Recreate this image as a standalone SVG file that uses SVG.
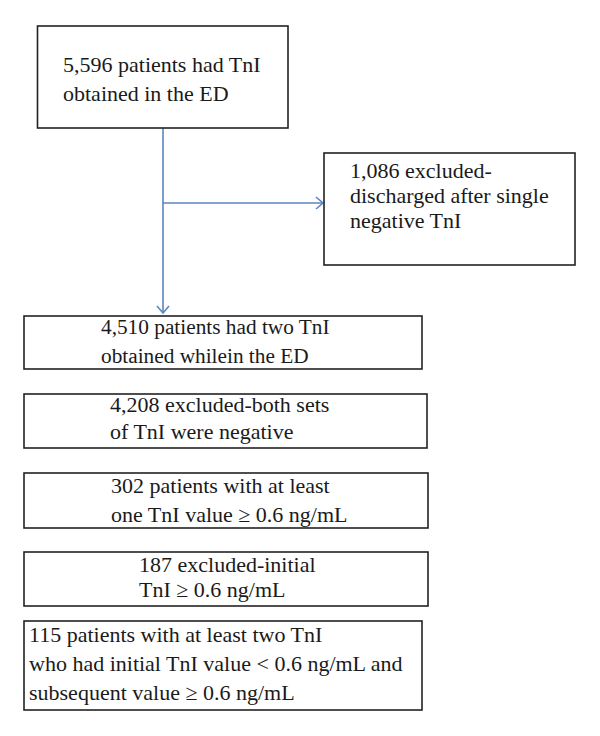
<svg xmlns="http://www.w3.org/2000/svg" width="600" height="736" viewBox="0 0 600 736">
<style>
.box{fill:#fff;stroke:#222;stroke-width:1.6}
.t{font-family:"Liberation Serif","Times New Roman",serif;font-size:22px;fill:#1a1a1a}
.c{fill:none;stroke:#5b86c0;stroke-width:1.6}
</style>
<defs>
<marker id="ah" markerWidth="14" markerHeight="14" refX="10" refY="7" orient="auto" markerUnits="userSpaceOnUse">
<path d="M3,1 L10,7 L3,13" fill="none" stroke="#5b86c0" stroke-width="1.6"/>
</marker>
</defs>
<rect width="600" height="736" fill="#fff"/>
<g id="connectors">
<line class="c" x1="163" y1="128" x2="163" y2="313" marker-end="url(#ah)"/>
<line class="c" x1="163" y1="203" x2="323" y2="203" marker-end="url(#ah)"/>
</g>
<g id="n1">
<rect class="box" x="37.5" y="26" width="250.5" height="102"/>
<text class="t" x="63" y="72">5,596 patients had TnI</text>
<text class="t" x="63" y="101">obtained in the ED</text>
</g>
<g id="n2">
<rect class="box" x="324" y="153" width="251" height="112"/>
<text class="t" x="350" y="178">1,086 excluded-</text>
<text class="t" x="350" y="203">discharged after single</text>
<text class="t" x="350" y="228">negative TnI</text>
</g>
<g id="n3">
<rect class="box" x="24" y="316" width="398" height="53"/>
<text class="t" x="101" y="334" style="font-size:21.3px">4,510 patients had two TnI</text>
<text class="t" x="101" y="363" style="font-size:21.3px">obtained whilein the ED</text>
</g>
<g id="n4">
<rect class="box" x="24" y="394" width="403" height="54"/>
<text class="t" x="110" y="412">4,208 excluded-both sets</text>
<text class="t" x="110" y="439">of TnI were negative</text>
</g>
<g id="n5">
<rect class="box" x="24" y="473" width="404" height="55"/>
<text class="t" x="111" y="493">302 patients with at least</text>
<text class="t" x="111" y="522">one TnI value ≥ 0.6 ng/mL</text>
</g>
<g id="n6">
<rect class="box" x="24" y="552" width="404" height="54"/>
<text class="t" x="139" y="572">187 excluded-initial</text>
<text class="t" x="139" y="597">TnI ≥ 0.6 ng/mL</text>
</g>
<g id="n7">
<rect class="box" x="24" y="621" width="398" height="89"/>
<text class="t" x="29" y="642">115 patients with at least two TnI</text>
<text class="t" x="29" y="671">who had initial TnI value &lt; 0.6 ng/mL and</text>
<text class="t" x="29" y="700">subsequent value ≥ 0.6 ng/mL</text>
</g>
</svg>
